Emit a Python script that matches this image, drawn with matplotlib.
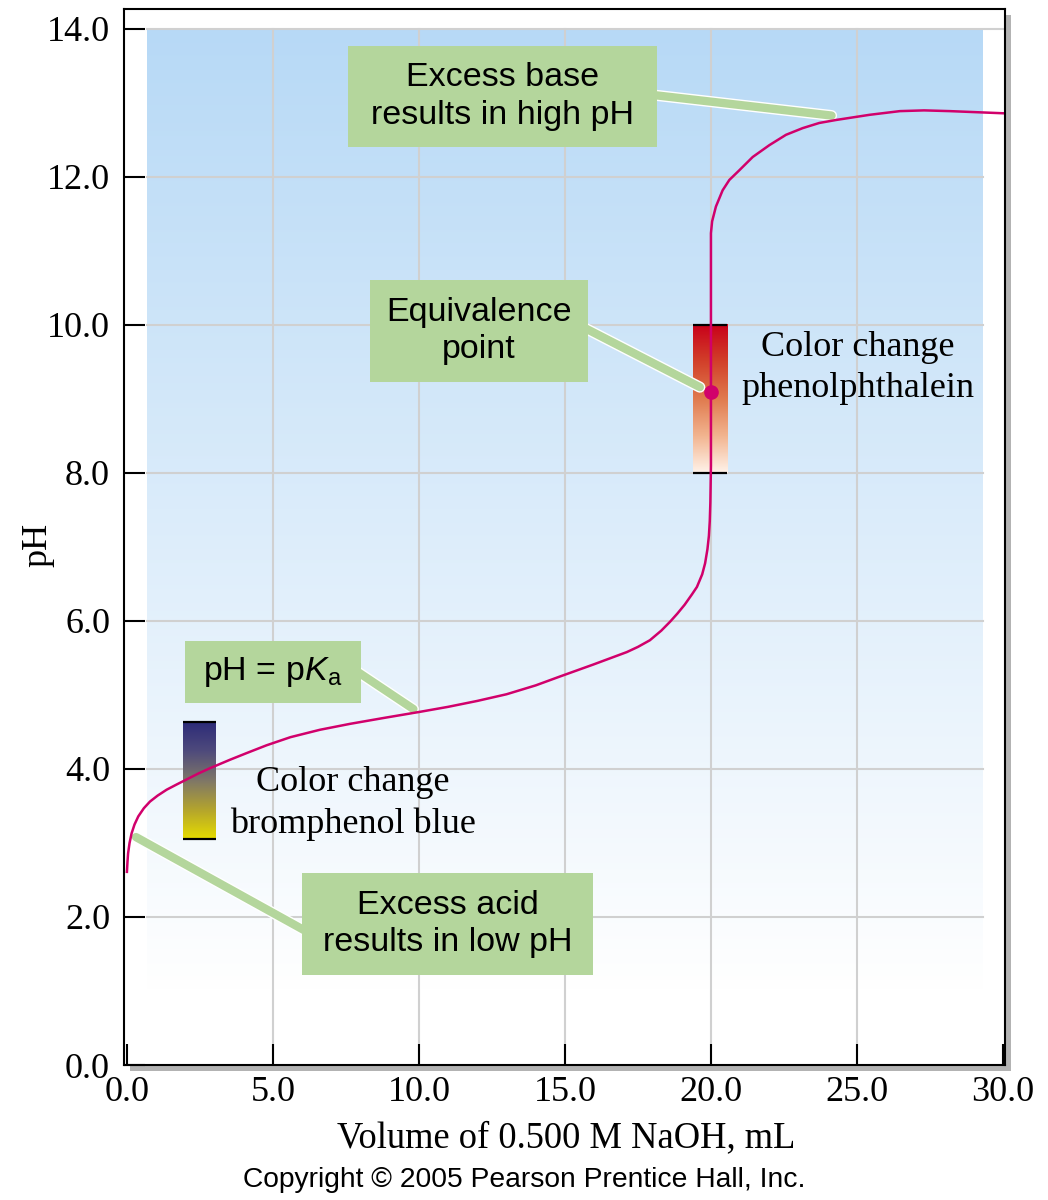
import numpy as np
import matplotlib
matplotlib.use("Agg")
from matplotlib import pyplot as plt
from matplotlib.patches import Rectangle
from matplotlib.colors import LinearSegmentedColormap
import matplotlib.patheffects as pe

plt.rcParams['mathtext.fontset'] = 'custom'
plt.rcParams['mathtext.rm'] = 'Liberation Sans'
plt.rcParams['mathtext.it'] = 'Liberation Sans:italic'

SERIF = 'Liberation Serif'
SANS = 'Liberation Sans'

# titration curve (mL NaOH, pH)
volume_ml = [0.00, 0.02, 0.04, 0.09, 0.16, 0.26, 0.39, 0.58, 0.79, 1.05,
             1.36, 1.70, 2.05, 2.45, 2.84, 3.20, 3.53, 4.10, 4.78, 5.60,
             6.61, 7.64, 8.80, 10.00, 11.00, 12.00, 13.00, 14.00, 14.83,
             15.96, 17.12, 17.50, 17.91, 18.30, 18.60, 18.85, 19.10, 19.35,
             19.52, 19.70, 19.80, 19.88, 19.93, 19.96, 19.98, 19.99, 20.00,
             20.00, 20.00, 20.00, 20.00, 20.04, 20.17, 20.40, 20.63, 20.97,
             21.43, 22.00, 22.57, 23.14, 23.71, 24.28, 25.43, 26.47, 27.30,
             28.18, 30.07]
ph_values = [2.61, 2.75, 2.86, 3.00, 3.13, 3.25, 3.36, 3.47, 3.56, 3.64,
             3.72, 3.79, 3.86, 3.94, 4.01, 4.07, 4.125, 4.215, 4.32, 4.43,
             4.53, 4.61, 4.69, 4.77, 4.84, 4.92, 5.01, 5.13, 5.25,
             5.41, 5.58, 5.65, 5.74, 5.87, 5.99, 6.10, 6.22, 6.36,
             6.46, 6.63, 6.78, 6.97, 7.15, 7.35, 7.60, 7.85, 8.10,
             9.10, 10.07, 11.00, 11.24, 11.40, 11.60, 11.82, 11.96, 12.09,
             12.27, 12.43, 12.57, 12.66, 12.73, 12.77, 12.84, 12.89, 12.90,
             12.89, 12.86]

equivalence_point = (20.0, 9.1)

x_ticks = [0, 5, 10, 15, 20, 25, 30]
y_ticks = [0, 2, 4, 6, 8, 10, 12, 14]

# indicator ranges (pH low, pH high)
phenolphthalein_range = (8.0, 10.0)
bromphenol_range = (3.05, 4.64)

CURVE_COLOR = '#d1006b'
GREEN = '#b4d69c'
GRID = '#d0d0d0'

fig = plt.figure(figsize=(10.48, 12), dpi=100)
ax_rect = [124 / 1048, 135 / 1200, 881 / 1048, 1056 / 1200]
ax = fig.add_axes(ax_rect)

# drop shadow behind the frame
shadow = Rectangle((ax_rect[0] + 6 / 1048, ax_rect[1] - 6 / 1200), ax_rect[2], ax_rect[3],
                   transform=fig.transFigure, facecolor='#b3b3b3', edgecolor='none', zorder=-5)
fig.patches.append(shadow)

ax.set_xlim(-0.10, 30.07)
ax.set_ylim(0, 14.27)
ax.set_facecolor('white')

# blue to white background panel
top = np.array([183, 217, 246]) / 255.0
n = 300
frac = np.linspace(0, 1, n)[:, None]
grad = top[None, :] * (1 - frac) + np.ones(3)[None, :] * frac
panel = np.repeat(grad[:, None, :], 2, axis=1)
ax.imshow(panel, extent=(0.7, 29.3, 1.0, 14.0), origin='upper', aspect='auto',
          interpolation='bilinear', zorder=0)

# grid
for yv in y_ticks[1:]:
    ax.plot([0.7, 29.3 if yv < 14 else 30.07], [yv, yv], color=GRID, lw=1.5, zorder=1)
for xv in x_ticks[1:-1]:
    ax.plot([xv, xv], [0, 14], color=GRID, lw=1.5, zorder=1)

# indicator colour bars
phth_cmap = LinearSegmentedColormap.from_list(
    'phth', ['#fff3ea', '#f2b48f', '#e07a4e', '#d2402a', '#c8001a'])
brom_cmap = LinearSegmentedColormap.from_list(
    'brom', ['#e6dc00', '#b3a42e', '#7e7668', '#4e4a7c', '#2c2a78'])
ramp = np.linspace(0, 1, 256)[:, None]
ax.imshow(ramp, cmap=phth_cmap, extent=(19.38, 20.55, *phenolphthalein_range),
          origin='lower', aspect='auto', interpolation='bilinear', zorder=2)
ax.imshow(ramp, cmap=brom_cmap, extent=(1.92, 3.05, *bromphenol_range),
          origin='lower', aspect='auto', interpolation='bilinear', zorder=2)
for (x0, x1), rng in [((19.38, 20.55), phenolphthalein_range), ((1.92, 3.05), bromphenol_range)]:
    for yv in rng:
        ax.plot([x0, x1], [yv, yv], color='black', lw=1.6, zorder=3, solid_capstyle='butt')

# titration curve
ax.plot(volume_ml, ph_values, color=CURVE_COLOR, lw=1.8, zorder=6,
        solid_joinstyle='round')
ax.plot(*equivalence_point, 'o', color=CURVE_COLOR, ms=9.5, zorder=7)

# annotation boxes with leader lines
leader_fx = [pe.Stroke(linewidth=8.0, foreground='white'), pe.Normal()]
boxes = [
    ((7.57, 12.41, 10.58, 1.36), "Excess base\nresults in high pH", [(16.0, 24.13), (13.2, 12.83)]),
    ((8.32, 9.23, 7.47, 1.38), "Equivalence\npoint", [(14.0, 19.62), (10.3, 9.16)]),
    ((1.99, 4.89, 6.02, 0.84), r"pH = p$\it{K}$$_\mathrm{a}$", [(7.0, 9.81), (5.55, 4.81)]),
    ((5.99, 1.22, 9.97, 1.37), "Excess acid\nresults in low pH", [(8.0, 0.31), (1.4, 3.08)]),
]
for (bx, by, bw, bh), label, (lx, ly) in boxes:
    ax.plot(lx, ly, color=GREEN, lw=6, solid_capstyle='round', zorder=4,
            path_effects=leader_fx)
    ax.add_patch(Rectangle((bx, by), bw, bh, facecolor=GREEN, edgecolor='none', zorder=5))
    ax.text(bx + bw / 2, by + bh / 2, label, ha='center', va='center', family=SANS,
            fontsize=24.5, linespacing=1.28, zorder=8)

ax.text(25.03, 9.42, "Color change\nphenolphthalein", ha='center', va='center',
        family=SERIF, fontsize=26, linespacing=1.32, zorder=8)
ax.text(7.74, 3.53, "Color change\nbromphenol blue", ha='center', va='center',
        family=SERIF, fontsize=26, linespacing=1.32, zorder=8)

# axes styling
for side in ['top', 'right', 'bottom', 'left']:
    ax.spines[side].set_linewidth(1.5)
    ax.spines[side].set_zorder(10)
ax.set_xticks(x_ticks)
ax.set_yticks(y_ticks)
ax.set_xticklabels([f"{v:.1f}" for v in x_ticks])
ax.set_yticklabels([f"{v:.1f}" for v in y_ticks])
ax.tick_params(direction='in', length=15, width=1.5, top=False, right=False,
               labelsize=26, zorder=11)
ax.tick_params(axis='y', pad=10)
ax.tick_params(axis='x', pad=8)
for lab in ax.get_xticklabels() + ax.get_yticklabels():
    lab.set_family(SERIF)

fig.text(38 / 1048, 1 - 545 / 1200, "pH", rotation=90, ha='center', va='center',
         family=SERIF, fontsize=26)
fig.text(566 / 1048, 1 - 1138 / 1200, "Volume of 0.500 M NaOH, mL", ha='center',
         va='center', family=SERIF, fontsize=26.3)
fig.text(524 / 1048, 1 - 1180 / 1200, "Copyright \u00a9 2005 Pearson Prentice Hall, Inc.",
         ha='center', va='center', family=SANS, fontsize=20.3)

fig.savefig("out.png", dpi=100)
